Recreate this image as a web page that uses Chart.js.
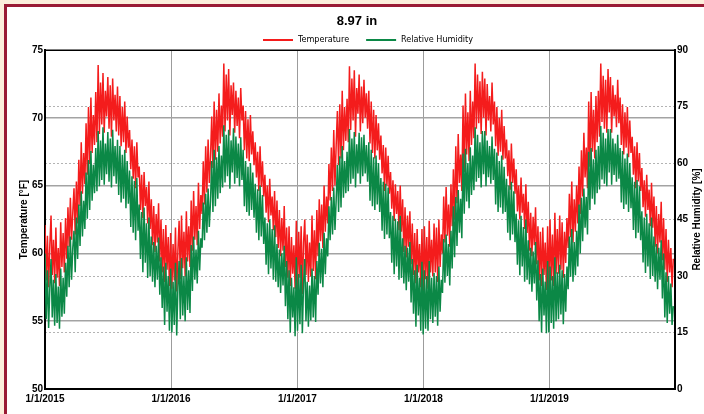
<!DOCTYPE html>
<html><head><meta charset="utf-8">
<script src="https://cdn.jsdelivr.net/npm/chart.js@4.4.1/dist/chart.umd.min.js"></script>
<style>
html,body{margin:0;padding:0;background:#fcefdc;width:704px;height:414px;overflow:hidden;}
#frame{position:absolute;left:4px;top:4px;width:740px;height:440px;border:3px solid #9a1b35;background:#fff;}
#wrap{position:absolute;left:0;top:0;width:704px;height:414px;}
</style></head><body>
<div id="frame"></div>
<div id="wrap"><canvas id="c" width="704" height="414"></canvas></div>
<script>
// ---- data (samples every 3.5 days starting 1/1/2015) ----
const chartTitle = '8.97 in';
const sampleStepDays = 3.5;
const xTickDays = [0, 365, 731, 1096, 1461];
const xTickLabels = ['1/1/2015', '1/1/2016', '1/1/2017', '1/1/2018', '1/1/2019'];
const seriesNames = ['Temperature', 'Relative Humidity'];
const seriesColors = ['#f41c1c', '#0b8846'];

const temp2015 = [62.1,58.0,61.3,57.5,60.6,62.8,58.4,61.0,57.8, 61.9,58.2,60.4,57.6,62.3,59.0,61.5,58.6, 62.6,59.6,63.4,60.5,64.1,61.0,63.0,64.8,61.4, 65.3,62.2,66.9,63.5,68.2,64.4,67.4,65.1, 69.6,65.8,70.8,66.6,71.5,67.4,70.2,68.0,71.9, 68.2,73.9,68.8,72.6,69.5,73.3,68.9,72.0,70.1, 73.0,69.2,72.4,68.6,72.9,69.8,71.7,69.0,72.3, 68.7,71.6,67.9,70.8,68.2,71.2,67.4,70.1,67.8, 69.1,66.2,68.4,65.5,67.9,64.8,68.2,65.6, 66.4,63.2,65.8,62.6,66.0,63.5,64.9,62.2,65.3, 61.8,64.0,60.6,63.5,60.1,62.9,60.8,63.7, 59.4,62.5,58.6,61.8,57.9,62.1,58.8,61.2,57.6];
const temp2016 = [61.5,57.4,60.7,58.0,61.9,57.2,60.2,62.4,58.1, 62.8,58.9,61.6,58.3,63.1,59.4,62.0,59.0, 63.9,60.2,64.6,61.0,63.5,60.6,65.2,61.8,64.3, 62.9,66.8,63.6,67.9,64.5,68.4,65.2,67.1, 70.1,66.3,71.2,66.9,70.6,67.5,71.8,68.1,70.9, 68.6,74.0,69.0,73.2,69.8,73.6,68.7,72.4,70.2, 72.6,68.9,72.0,69.4,71.5,68.5,72.2,69.8,70.9, 67.6,70.5,67.0,69.9,66.8,70.2,67.3,69.0,66.5, 68.2,65.6,67.5,64.6,67.9,64.9,66.8,64.2, 65.8,63.0,65.0,62.3,65.5,62.8,64.2,61.7,64.6, 61.2,63.9,60.4,63.2,59.8,62.6,60.2,63.5, 59.0,61.9,58.2,62.0,57.6,61.2,58.5,60.6,57.4];
const temp2017 = [62.4,57.3,61.6,58.2,62.0,57.0,60.8,62.5,58.4, 61.4,57.9,60.8,58.3,62.8,58.7,61.7,58.1, 63.2,59.8,64.0,60.9,63.6,60.4,65.0,61.6,64.2, 62.2,66.6,63.9,67.8,64.6,69.1,65.0,68.0, 70.5,66.5,71.0,67.0,72.0,67.6,70.8,68.3,71.4, 68.2,73.8,69.1,72.9,69.8,73.5,68.6,72.2,70.3, 73.2,69.0,72.3,69.6,72.8,70.0,71.8,69.2,72.0, 68.1,71.2,67.4,70.6,67.0,70.2,67.6,69.6,66.9, 68.7,65.9,68.0,64.6,67.8,65.0,67.2,64.4, 66.0,63.3,65.4,62.4,65.1,62.9,64.6,61.7,65.0, 61.6,64.0,60.1,63.4,59.7,62.8,60.5,63.1, 59.2,62.2,58.4,61.5,57.8,61.8,58.6,60.7,57.5];
const temp2018 = [61.8,57.0,62.0,58.1,61.2,57.4,62.4,58.6,61.0, 58.3,62.2,58.6,61.9,57.9,62.5,59.0,61.4, 60.0,64.2,60.8,64.9,61.3,63.6,60.5,65.1,62.0, 66.2,62.5,67.9,63.7,68.8,65.2,67.3,64.6, 70.9,66.0,71.8,67.3,70.4,66.8,72.0,68.0,71.2, 68.5,74.0,69.2,73.2,69.6,72.7,68.8,73.4,70.0, 72.9,68.7,72.5,69.8,71.6,69.0,72.6,69.5,71.2, 67.9,70.8,67.2,70.0,67.5,70.6,66.9,69.4,67.0, 68.4,65.7,67.6,64.7,68.1,65.2,67.0,64.4, 66.2,63.1,65.0,62.5,65.6,63.0,64.4,61.8,65.1, 61.5,63.8,60.2,63.0,59.8,62.7,60.6,63.4, 59.2,62.0,58.0,61.6,57.6,61.9,58.4,60.8,57.3];
const temp2019 = [62.0,57.3,62.5,58.0,61.4,57.6,63.0,58.5,61.8, 58.5,62.8,58.8,62.3,58.2,61.6,59.3,62.6, 60.4,64.4,61.2,65.3,60.8,64.0,61.6,65.0,62.2, 66.4,62.9,67.6,64.2,68.9,65.6,67.8,64.8, 71.2,66.4,71.9,67.5,70.6,67.0,71.6,68.2,72.0, 68.6,74.0,69.7,73.1,69.2,72.8,68.9,73.6,70.4, 73.0,68.9,72.4,70.1,71.7,69.3,72.8,69.6,71.5, 68.0,71.0,67.3,70.4,67.8,70.8,67.1,69.8,67.4, 68.6,65.8,67.9,64.8,68.2,65.3,67.4,64.6, 66.3,63.4,65.4,62.7,65.8,63.2,64.7,62.0,65.2, 61.9,64.2,60.5,63.5,60.0,62.9,60.8,63.8, 59.5,62.6,58.8,61.8,57.9,61.0,58.6,60.4,57.5,59.6];

const rh2015 = [36.0,18.5,31.5,16.2,27.0,34.5,19.0,29.0,16.8, 30.5,17.5,27.2,16.0,32.0,19.2,29.5,20.0, 33.5,24.5,38.0,27.0,40.5,29.0,37.5,42.0,31.0, 45.5,34.5,49.0,38.0,52.5,40.5,50.0,42.5, 57.5,45.2,60.8,47.5,63.2,50.0,59.5,52.0,64.0, 52.5,68.5,53.8,66.0,55.5,69.5,54.2,65.2,57.0, 68.2,55.0,66.5,53.5,68.8,56.5,64.5,54.5,66.2, 51.5,64.5,49.5,62.2,50.5,63.5,48.0,60.5,49.2, 58.0,43.0,56.5,41.5,55.2,39.5,56.0,42.0, 49.0,34.5,47.0,31.0,48.2,33.5,44.0,29.5,45.5, 30.0,40.5,28.5,39.0,27.0,38.0,29.0,40.2, 25.0,35.0,21.5,32.5,17.0,33.5,20.5,30.0,15.5];
const rh2016 = [32.0,15.0,28.5,17.0,33.5,14.2,27.0,34.0,18.5, 34.8,19.5,30.0,18.0,35.0,21.0,31.5,20.2, 38.2,26.0,40.5,29.0,37.0,28.0,42.0,31.5,40.0, 37.5,49.5,39.5,51.8,41.5,53.2,43.0,50.0, 60.5,47.0,63.5,48.5,61.5,50.5,64.5,52.0,62.0, 53.5,70.0,54.8,67.5,56.5,68.8,53.2,66.0,57.5, 69.2,54.5,67.0,56.0,65.2,53.8,66.8,55.5,63.5, 48.5,60.5,47.0,59.0,46.0,60.0,47.5,57.5,45.5, 54.5,41.5,53.0,39.5,54.0,40.5,51.5,38.5, 45.5,33.0,44.0,30.5,45.0,32.0,42.5,29.0,43.5, 28.5,38.5,27.0,37.0,25.5,36.0,27.5,38.0, 22.0,34.0,18.5,31.5,15.0,29.5,19.0,27.0,14.0];
const rh2017 = [35.0,15.5,30.5,17.2,33.0,14.8,28.0,34.5,18.0, 28.5,16.5,27.5,18.2,32.0,19.0,30.0,17.8, 34.0,25.0,38.8,28.0,37.2,27.0,41.5,30.5,40.0, 35.2,48.5,39.5,51.0,41.0,53.5,42.2,50.2, 59.5,47.0,61.8,48.2,64.5,50.8,60.5,52.0,63.0, 52.5,69.0,54.5,66.5,55.8,68.2,53.5,65.0,57.2, 68.0,54.5,66.8,56.5,67.5,57.2,64.8,55.0,65.5, 50.0,63.5,48.5,61.5,47.5,62.0,49.0,60.0,47.0, 56.0,42.0,55.0,39.8,54.5,41.0,53.5,40.0, 47.0,33.5,46.0,30.5,45.2,32.5,44.5,29.0,46.0, 29.5,40.0,28.0,38.0,26.2,37.5,28.5,39.0, 23.0,34.5,20.0,31.5,16.5,33.0,19.5,29.5,15.5];
const rh2018 = [33.8,14.5,31.5,16.0,30.0,15.5,34.0,18.5,29.5, 17.5,30.8,19.2,30.0,16.8,32.5,20.5,29.0, 25.5,39.8,28.2,41.0,30.0,38.5,27.5,42.0,32.0, 48.5,35.0,51.0,38.0,52.8,41.5,50.5,40.0, 62.5,46.5,63.8,49.8,60.0,48.0,64.2,51.5,62.0, 52.8,69.5,55.0,67.5,56.0,65.5,53.5,68.5,57.0, 68.5,53.8,66.0,56.2,64.5,54.5,67.0,55.5,63.8, 49.0,62.8,47.0,60.5,48.2,62.0,46.5,59.0,47.0, 55.8,41.5,54.0,39.5,55.0,41.0,52.5,39.0, 46.5,33.0,44.8,30.2,46.0,32.5,43.0,28.5,45.0, 29.0,39.5,27.8,37.5,25.8,36.5,28.0,39.0, 23.5,34.2,18.0,30.5,15.0,32.0,19.5,28.5,14.8];
const rh2019 = [34.0,15.0,32.5,17.5,30.0,16.0,35.0,18.0,31.0, 18.5,33.0,19.8,31.5,17.2,30.5,20.5,32.5, 26.5,40.5,29.8,42.5,28.5,39.0,30.2,42.0,32.5, 49.0,36.0,50.8,39.2,53.2,42.8,51.0,41.0, 63.0,47.5,64.0,50.5,61.0,49.0,63.5,52.0,64.5, 53.0,69.8,55.6,68.0,54.5,66.5,53.8,69.0,57.5, 69.0,54.2,66.5,56.8,65.2,55.0,67.5,55.8,64.0, 49.5,63.2,47.8,61.2,49.0,62.5,47.0,60.0,48.0, 56.2,42.2,55.0,40.0,55.5,41.5,53.8,39.5, 47.2,33.6,45.5,30.8,46.5,32.5,44.0,29.2,45.5, 30.0,40.5,28.5,38.5,26.5,37.5,29.0,39.5, 24.0,36.0,19.0,31.0,17.5,30.0,20.0,28.0,17.0,22.0];

const temperature = [].concat(temp2015, temp2016, temp2017, temp2018, temp2019);
const humidity = [].concat(rh2015, rh2016, rh2017, rh2018, rh2019);
const toPoints = arr => arr.map((v, i) => ({x: i * sampleStepDays, y: v}));

const FONT = "'Liberation Sans', Arial, sans-serif";
const NARROW = "'Liberation Sans Narrow', 'Arial Narrow', 'DejaVu Sans Condensed', sans-serif";

const decor = {
  id: 'decor',
  afterDraw(chart) {
    const {ctx, chartArea: a} = chart;
    ctx.save();
    ctx.strokeStyle = '#000'; ctx.lineWidth = 1.5;
    ctx.beginPath(); ctx.moveTo(a.left, a.top + 0.25); ctx.lineTo(a.right + 1, a.top + 0.25); ctx.stroke();
    // legend
    ctx.font = '9px ' + NARROW;
    ctx.textBaseline = 'middle'; ctx.textAlign = 'left'; ctx.fillStyle = '#000';
    const lineW = 30, gapT = 5, gapItem = 17, y = 40;
    let total = 0;
    seriesNames.forEach((n, i) => { total += lineW + gapT + ctx.measureText(n).width + (i ? 0 : gapItem); });
    let x = 368 - total / 2;
    seriesNames.forEach((name, i) => {
      ctx.strokeStyle = seriesColors[i]; ctx.lineWidth = 2;
      ctx.beginPath(); ctx.moveTo(x, y); ctx.lineTo(x + lineW, y); ctx.stroke();
      x += lineW + gapT;
      ctx.fillText(name, x, y);
      x += ctx.measureText(name).width + gapItem;
    });
    // right axis title (reads bottom-to-top)
    ctx.font = 'bold 10px ' + FONT;
    ctx.translate(697, (a.top + a.bottom) / 2);
    ctx.rotate(-Math.PI / 2);
    ctx.textAlign = 'center';
    ctx.fillText('Relative Humidity [%]', 0, 0);
    ctx.restore();
  }
};

const tickFont = {family: FONT, size: 10, weight: 'bold'};

new Chart(document.getElementById('c'), {
  type: 'line',
  data: {
    datasets: [
      {label: seriesNames[0], data: toPoints(temperature), yAxisID: 'yT', borderColor: seriesColors[0], backgroundColor: seriesColors[0], borderWidth: 1.5, pointRadius: 0, tension: 0, order: 2},
      {label: seriesNames[1], data: toPoints(humidity), yAxisID: 'yRH', borderColor: seriesColors[1], backgroundColor: seriesColors[1], borderWidth: 1.5, pointRadius: 0, tension: 0, order: 1}
    ]
  },
  options: {
    responsive: false,
    animation: false,
    events: [],
    layout: {padding: {left: 10, right: 0, top: 0, bottom: 0}},
    plugins: {
      legend: {display: false},
      tooltip: {enabled: false},
      title: {display: true, text: chartTitle, color: '#000', font: {family: FONT, size: 13, weight: 'bold'}, padding: {top: 14, bottom: 20.4}}
    },
    scales: {
      x: {
        type: 'linear', min: 0, max: 1825,
        afterBuildTicks: s => { s.ticks = xTickDays.map(v => ({value: v})); },
        afterFit: s => { s.height = 25; },
        ticks: {autoSkip: false, maxRotation: 0, minRotation: 0, padding: 4, color: '#000', font: tickFont,
          callback: v => xTickLabels[xTickDays.indexOf(v)]},
        grid: {drawTicks: false, lineWidth: 1, color: c => (c.tick && c.tick.value === 0) ? 'rgba(0,0,0,0)' : '#9c9c9c'},
        border: {color: '#000', width: 2}
      },
      yT: {
        position: 'left', min: 50, max: 75,
        afterFit: s => { s.width = 35; },
        ticks: {stepSize: 5, padding: 2, color: '#000', font: tickFont},
        grid: {drawTicks: false, lineWidth: 1.5, color: c => (c.tick && (c.tick.value === 50 || c.tick.value === 75)) ? 'rgba(0,0,0,0)' : '#a3a3a3'},
        border: {color: '#000', width: 2},
        title: {display: true, text: 'Temperature [°F]', color: '#000', font: {family: FONT, size: 10, weight: 'bold'}, padding: {top: 8, bottom: 0}}
      },
      yRH: {
        position: 'right', min: 0, max: 90,
        afterFit: s => { s.width = 29; },
        ticks: {stepSize: 15, padding: 2, color: '#000', font: tickFont},
        grid: {drawTicks: false, lineWidth: 1, color: c => (c.tick && (c.tick.value === 0 || c.tick.value === 90)) ? 'rgba(0,0,0,0)' : '#b3b3b3'},
        border: {color: '#000', width: 2, dash: [2, 2]}
      }
    }
  },
  plugins: [decor]
});
</script></body></html>
